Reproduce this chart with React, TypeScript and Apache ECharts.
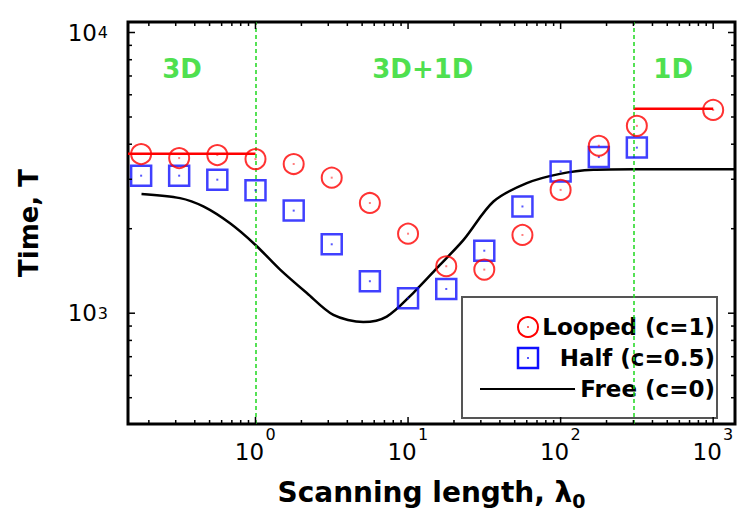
import React, { useEffect, useRef } from "react";
import * as echarts from "echarts";

// Scanning lengths λ0 at which the looped / half-looped runs were made
const scanLengths = [0.178, 0.316, 0.562, 1, 1.78, 3.16, 5.62, 10, 17.8, 31.6, 56.2, 100, 178, 316];
const loopedLengths = [...scanLengths, 1000];
// Search time T, fully looped DNA (c = 1)
const loopedTimes = [3690, 3570, 3660, 3540, 3400, 3040, 2470, 1920, 1470, 1430, 1900, 2750, 3950, 4650, 5300];
// Search time T, half-looped DNA (c = 0.5)
const halfTimes = [3090, 3090, 2990, 2740, 2320, 1760, 1300, 1130, 1220, 1670, 2400, 3200, 3600, 3890];
// Search time T, free DNA (c = 0), theory curve
const freeLengths = [0.179, 0.32, 0.455, 0.681, 1, 1.45, 2.17, 3.24, 5.09, 7.25, 10.8, 15.8, 23.1, 36.3, 60, 99, 164, 300, 1390];
const freeTimes = [2660, 2570, 2400, 2090, 1750, 1430, 1180, 986, 930, 973, 1180, 1466, 1825, 2500, 2906, 3136, 3241, 3258, 3258];
// Limiting regimes for the looped case
const limit3DLengths = [0.146, 1];
const limit3DTime = 3700;
const limit1DLengths = [300, 1000];
const limit1DTime = 5350;
// Regime boundaries and names
const regimeBounds = [1, 300];
const regimeNames = ["3D", "3D+1D", "1D"];
const seriesNames = ["Looped (c=1)", "Half (c=0.5)", "Free (c=0)"];
// Axis ranges
const xRange = [0.146, 1390];
const yRange = [403, 10900];

const FONT = '"DejaVu Sans", sans-serif';
const RED = "#ff0000";
const BLUE = "#1010ff";
const GREEN = "#1ed81e";

const isPower = (v: number) => {
  const e = Math.log10(v);
  return Math.abs(e - Math.round(e)) < 1e-6;
};
// mantissa "10" and its exponent are laid out on two overlaid axes
const baseLabel = (v: number) => (isPower(v) ? "10" : "");
const expLabel = (v: number) => (isPower(v) ? String(Math.round(Math.log10(v))) : "");

const baseText = { fontSize: 23, lineHeight: 23, fontFamily: FONT, color: "#000" };
const expText = { fontSize: 16, lineHeight: 16, fontFamily: FONT, color: "#000" };

// minor tick positions (2..9 within each decade) plus the majors
function buildTicks() {
  const out: number[][] = [];
  for (let e = -1; e <= 3; e++) {
    for (let k = 1; k <= 9; k++) {
      const v = k * Math.pow(10, e);
      if (v >= xRange[0] && v <= xRange[1]) out.push([v, 1000, 0, k === 1 ? 1 : 0]);
    }
  }
  for (let e = 2; e <= 4; e++) {
    for (let k = 1; k <= 9; k++) {
      const v = k * Math.pow(10, e);
      if (v >= yRange[0] && v <= yRange[1]) out.push([1, v, 1, k === 1 ? 1 : 0]);
    }
  }
  return out;
}

const hidden = {
  axisLine: { show: false },
  axisTick: { show: false },
  splitLine: { show: false },
};

export default function App() {
  const ref = useRef<HTMLDivElement>(null);

  useEffect(() => {
    if (!ref.current) return;
    const chart = echarts.init(ref.current, undefined, { renderer: "svg" });

    const loopedData = loopedLengths.map((x, i) => [x, loopedTimes[i]]);
    const halfData = scanLengths.map((x, i) => [x, halfTimes[i]]);
    const freeData = freeLengths.map((x, i) => [x, freeTimes[i]]);

    const tickStyle = { stroke: "#000", lineWidth: 1.5 };
    const legendFont = `bold 23px ${FONT}`;
    const legendText = (text: string, y: number) => ({
      type: "text",
      style: {
        text,
        x: 715,
        y,
        textAlign: "right",
        textVerticalAlign: "middle",
        align: "right",
        verticalAlign: "middle",
        font: legendFont,
        fill: "#000",
      },
    });

    chart.setOption({
      animation: false,
      backgroundColor: "#fff",
      grid: {
        left: 128,
        right: 15,
        top: 22,
        bottom: 101,
        show: true,
        borderColor: "#000",
        borderWidth: 3,
        backgroundColor: "#fff",
      },
      xAxis: [
        {
          type: "log",
          logBase: 10,
          position: "bottom",
          min: xRange[0],
          max: xRange[1],
          ...hidden,
          axisLabel: {
            ...baseText,
            formatter: baseLabel,
            margin: 16,
            padding: [0, 12, 0, 0],
            showMinLabel: false,
            showMaxLabel: false,
          },
          name: "Scanning length, λ{sub|0}",
          nameLocation: "middle",
          nameGap: 50,
          nameTextStyle: {
            rich: {
              sub: { fontSize: 19, lineHeight: 19, verticalAlign: "bottom", fontFamily: FONT, fontWeight: "bold", color: "#000" },
            },
            fontSize: 28,
            lineHeight: 36,
            fontWeight: "bold",
            fontFamily: FONT,
            color: "#000",
          },
        },
        {
          type: "log",
          logBase: 10,
          position: "bottom",
          min: xRange[0],
          max: xRange[1],
          ...hidden,
          axisLabel: {
            ...expText,
            formatter: expLabel,
            margin: 2,
            padding: [0, 0, 0, 30],
            showMinLabel: false,
            showMaxLabel: false,
          },
        },
      ],
      yAxis: [
        {
          type: "log",
          logBase: 10,
          position: "left",
          min: yRange[0],
          max: yRange[1],
          ...hidden,
          axisLabel: {
            ...baseText,
            formatter: baseLabel,
            margin: 31,
            padding: [13, 0, 0, 0],
            showMinLabel: false,
            showMaxLabel: false,
          },
          name: "Time, T",
          nameLocation: "middle",
          nameGap: 86,
          nameTextStyle: { fontSize: 26, fontWeight: "bold", fontFamily: FONT, color: "#000" },
        },
        {
          type: "log",
          logBase: 10,
          position: "left",
          min: yRange[0],
          max: yRange[1],
          ...hidden,
          axisLabel: {
            ...expText,
            formatter: expLabel,
            margin: 20,
            padding: [0, 0, 24, 0],
            showMinLabel: false,
            showMaxLabel: false,
          },
        },
      ],
      series: [
        {
          // regime boundaries and their names
          type: "scatter",
          name: "regimes",
          silent: true,
          symbolSize: 1,
          itemStyle: { color: "transparent" },
          data: [
            { name: regimeNames[0], value: [0.33, 7400] },
            { name: regimeNames[1], value: [12.5, 7400] },
            { name: regimeNames[2], value: [547, 7400] },
          ],
          label: {
            show: true,
            position: "inside",
            formatter: "{b}",
            color: GREEN,
            fontSize: 26,
            fontWeight: "bold",
            fontFamily: FONT,
          },
          markLine: {
            silent: true,
            symbol: "none",
            label: { show: false },
            lineStyle: { color: GREEN, type: [4, 3], width: 1.5 },
            data: regimeBounds.map((b) => ({ xAxis: b })),
          },
          z: 1,
        },
        {
          type: "line",
          name: "limit3D",
          data: limit3DLengths.map((x) => [x, limit3DTime]),
          showSymbol: false,
          lineStyle: { color: RED, width: 2.5 },
          silent: true,
          z: 3,
        },
        {
          type: "line",
          name: "limit1D",
          data: limit1DLengths.map((x) => [x, limit1DTime]),
          showSymbol: false,
          lineStyle: { color: RED, width: 2.5 },
          silent: true,
          z: 3,
        },
        {
          type: "line",
          name: seriesNames[2],
          data: freeData,
          smooth: 0.3,
          showSymbol: false,
          lineStyle: { color: "#000", width: 2.5 },
          silent: true,
          z: 4,
        },
        {
          type: "scatter",
          name: seriesNames[1],
          data: halfData,
          symbol: "rect",
          symbolSize: 20,
          itemStyle: { color: "transparent", borderColor: BLUE, borderWidth: 2.5 },
          z: 5,
        },
        {
          type: "scatter",
          name: "halfDots",
          data: halfData,
          symbol: "rect",
          symbolSize: 2,
          itemStyle: { color: BLUE, opacity: 0.7 },
          silent: true,
          z: 5,
        },
        {
          type: "scatter",
          name: seriesNames[0],
          data: loopedData,
          symbol: "circle",
          symbolSize: 20,
          itemStyle: { color: "transparent", borderColor: RED, borderWidth: 2 },
          z: 6,
        },
        {
          type: "scatter",
          name: "loopedDots",
          data: loopedData,
          symbol: "rect",
          symbolSize: 2,
          itemStyle: { color: RED, opacity: 0.5 },
          silent: true,
          z: 6,
        },
        {
          // inward ticks on all four sides of the box
          type: "custom",
          name: "ticks",
          silent: true,
          clip: false,
          data: buildTicks(),
          z: 10,
          renderItem: (params: any, api: any) => {
            const kind = api.value(2);
            const len = api.value(3) ? 7 : 4;
            const pt = api.coord([api.value(0), api.value(1)]);
            const cs = params.coordSys;
            if (kind === 0) {
              const bottom = cs.y + cs.height;
              return {
                type: "group",
                children: [
                  { type: "line", shape: { x1: pt[0], y1: bottom, x2: pt[0], y2: bottom - len }, style: tickStyle },
                  { type: "line", shape: { x1: pt[0], y1: cs.y, x2: pt[0], y2: cs.y + len }, style: tickStyle },
                ],
              };
            }
            const right = cs.x + cs.width;
            return {
              type: "group",
              children: [
                { type: "line", shape: { x1: cs.x, y1: pt[1], x2: cs.x + len, y2: pt[1] }, style: tickStyle },
                { type: "line", shape: { x1: right, y1: pt[1], x2: right - len, y2: pt[1] }, style: tickStyle },
              ],
            };
          },
        },
      ],
      graphic: [
        {
          type: "group",
          z: 100,
          children: [
            {
              type: "rect",
              shape: { x: 462, y: 297, width: 255, height: 121 },
              style: { fill: "#fff", stroke: "#555", lineWidth: 2 },
            },
            {
              type: "circle",
              shape: { cx: 528, cy: 327, r: 10 },
              style: { fill: "none", stroke: RED, lineWidth: 2 },
            },
            {
              type: "rect",
              shape: { x: 527, y: 326, width: 2, height: 2 },
              style: { fill: RED, opacity: 0.6 },
            },
            legendText(seriesNames[0], 327),
            {
              type: "rect",
              shape: { x: 518, y: 348, width: 20, height: 20 },
              style: { fill: "none", stroke: BLUE, lineWidth: 2.5 },
            },
            {
              type: "rect",
              shape: { x: 527, y: 357, width: 2, height: 2 },
              style: { fill: BLUE, opacity: 0.7 },
            },
            legendText(seriesNames[1], 358),
            {
              type: "line",
              shape: { x1: 480, y1: 389, x2: 575, y2: 389 },
              style: { stroke: "#000", lineWidth: 2 },
            },
            legendText(seriesNames[2], 389),
          ],
        },
      ],
    });

    return () => chart.dispose();
  }, []);

  return <div ref={ref} style={{ width: 750, height: 525, position: "absolute", left: 0, top: 0 }} />;
}
